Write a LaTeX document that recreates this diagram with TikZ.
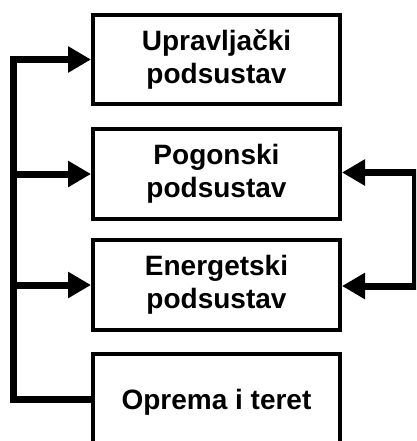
\documentclass[tikz,border=0pt]{standalone}
\usepackage{fontspec}
\setmainfont{Liberation Sans}
\usetikzlibrary{arrows.meta}
\begin{document}
\begin{tikzpicture}[x=1pt,y=-1pt,
  blk/.style={draw, line width=4pt, minimum width=247pt, inner sep=0pt, align=center,
    font=\fontsize{28}{33}\selectfont\bfseries},
  bus/.style={line width=7pt, line join=miter},
  tipA/.tip={Triangle[length=23pt,width=25pt]},
  arr/.style={bus, -tipA}]
\useasboundingbox (0,0) rectangle (416,441);
\clip (0,0) rectangle (416,441);
\node[blk, minimum height=89pt] (b1) at (216.5,59.5) {Upravljački\\podsustav};
\node[blk, minimum height=90pt] (b2) at (216.5,174) {Pogonski\\podsustav};
\node[blk, minimum height=90pt] (b3) at (216.5,285) {Energetski\\podsustav};
\node[blk, minimum height=96pt] (b4) at (216.5,402) {Oprema i teret};
\coordinate (lt) at (13.5,59.5);
\coordinate (lb) at (13.5,399);
\coordinate (rt) at (415.5,172.5);
\coordinate (rb) at (415.5,286);
\draw[arr] (lb -| b4.west) -- (lb) -- (lt) -- (b1.west);
\draw[arr] (lt |- b2.west) -- (b2.west);
\draw[arr] (lt |- b3.west) -- (b3.west);
\draw[bus, tipA-tipA] (rt -| b2.east) -- (rt) -- (rb) -- (rb -| b3.east);
\end{tikzpicture}
\end{document}
